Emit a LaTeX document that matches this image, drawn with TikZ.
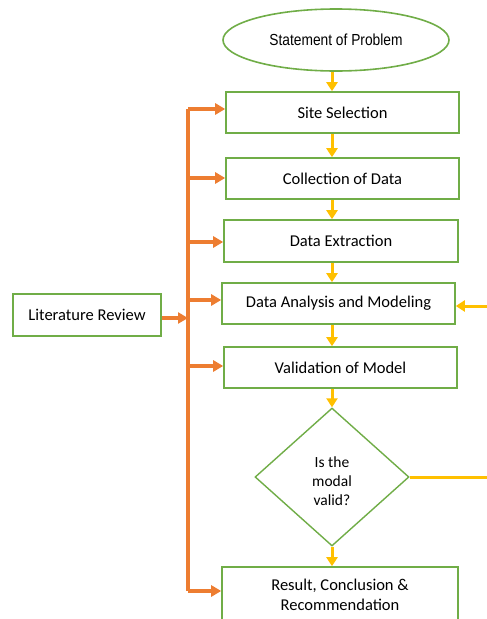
\documentclass[tikz,border=0pt]{standalone}
\usepackage{fontspec}
\setmainfont{Carlito}
\newfontfamily\narrowfont[FakeStretch=0.86]{Liberation Sans}
\usetikzlibrary{shapes.geometric,arrows.meta}
\definecolor{boxgreen}{HTML}{70AD47}
\definecolor{lineorange}{HTML}{ED7D31}
\definecolor{lineyellow}{HTML}{FFC000}
\tikzset{
  stepbox/.style={draw=boxgreen, line width=1.6pt, fill=white, inner sep=0pt,
    minimum width=233pt, minimum height=41pt, font=\fontsize{16.5}{20}\selectfont, align=center},
  startell/.style={ellipse, draw=boxgreen, line width=1.6pt, inner sep=0pt,
    minimum width=226pt, minimum height=62pt, font=\narrowfont\fontsize{16}{20}\selectfont},
  decide/.style={diamond, draw=boxgreen, line width=1.4pt, inner sep=0pt,
    minimum width=154pt, minimum height=138pt},
  dectxt/.style={align=center, inner sep=0pt, font=\fontsize{15.5}{19}\selectfont},
  yarrow/.style={draw=lineyellow, line width=3pt, -{Triangle[length=9pt,width=11pt]}},
  yline/.style={draw=lineyellow, line width=3pt},
  oarrow/.style={draw=lineorange, line width=3.5pt, -{Triangle[length=10pt,width=11pt]}},
  oline/.style={draw=lineorange, line width=3.5pt},
}
\begin{document}
\begin{tikzpicture}[x=1pt,y=-1pt]
\clip (0,0) rectangle (487,619);
\fill[white] (0,0) rectangle (487,619);
% nodes
\node[startell] (stmt) at (336,40) {Statement of Problem};
\node[stepbox] (site) at (342.5,112.5) {Site Selection};
\node[stepbox] (coll) at (342.5,178.5) {Collection of Data};
\node[stepbox, minimum width=234pt, minimum height=42pt] (ext) at (341,241) {Data Extraction};
\node[stepbox] (dana) at (338.5,303.5) {Data Analysis and Modeling};
\node[stepbox] (val) at (340.5,367.5) {Validation of Model};
\node[decide] (dec) at (332,477) {};
\node[dectxt] (dect) at (332,481) {Is the\\modal\\valid?};
\node[stepbox, minimum width=236pt, minimum height=56pt] (res) at (340,595) {Result, Conclusion \&\\Recommendation};
\node[stepbox, minimum width=148pt, minimum height=42pt] (lit) at (87,315) {Literature Review};
% helper coordinates
\coordinate (col) at (332,0);
\coordinate (trunk) at (188,0);
\coordinate (trtop) at (188,109);
\coordinate (trbot) at (188,591);
\coordinate (edgeA) at (490,306);
\coordinate (edgeB) at (490,477);
% yellow main flow
\draw[yarrow] (stmt.south -| col) -- (site.north -| col);
\draw[yarrow] (site.south -| col) -- (coll.north -| col);
\draw[yarrow] (coll.south -| col) -- (ext.north -| col);
\draw[yarrow] (ext.south -| col) -- (dana.north -| col);
\draw[yarrow] (dana.south -| col) -- (val.north -| col);
\draw[yarrow] (val.south -| col) -- (dec.north);
\draw[yarrow] (dec.south) -- (res.north -| col);
% feedback
\draw[yline] (dec.east) -- (edgeB);
\draw[yarrow] (edgeA) -- (edgeA -| dana.east);
% orange literature branches
\draw[oline] (trtop) -- (trbot);
\draw[oarrow] (lit.east |- 0,318) -- (trunk |- 0,318);
\draw[oarrow] (trtop) -- (trtop -| site.west);
\draw[oarrow] (trunk |- 0,178) -- (coll.west |- 0,178);
\draw[oarrow] (trunk |- 0,242) -- (ext.west |- 0,242);
\draw[oarrow] (trunk |- 0,300) -- (dana.west |- 0,300);
\draw[oarrow] (trunk |- 0,366) -- (val.west |- 0,366);
\draw[oarrow] (trbot) -- (trbot -| res.west);
\end{tikzpicture}
\end{document}
